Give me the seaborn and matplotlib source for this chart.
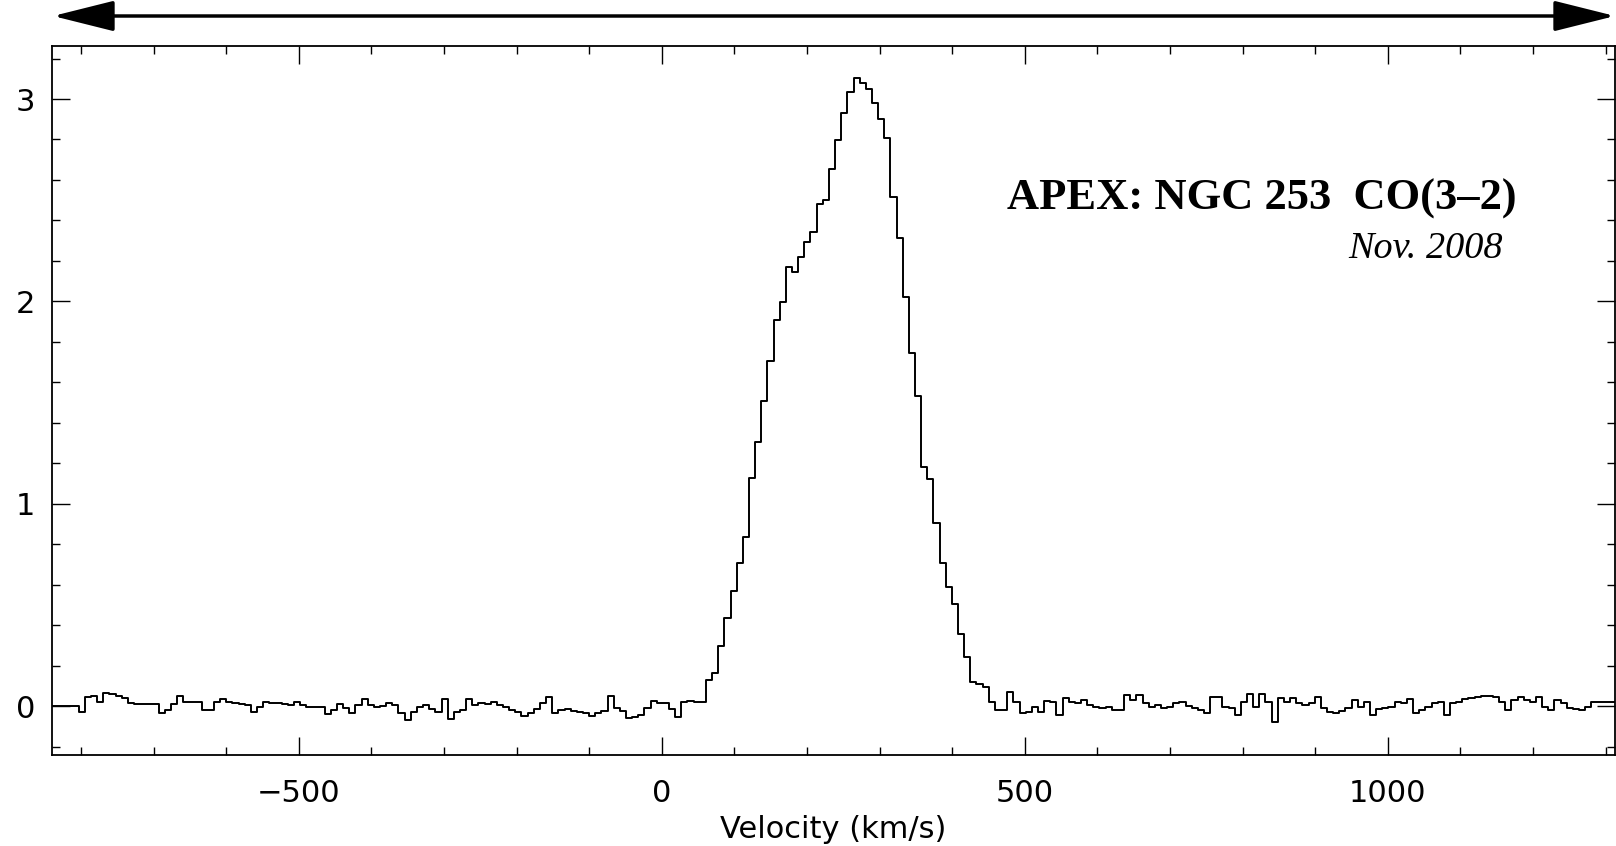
import numpy as np
import seaborn as sns
import matplotlib.pyplot as plt
from matplotlib.patches import FancyArrowPatch
from matplotlib.ticker import MultipleLocator

# --- data: APEX NGC 253 CO(3-2) spectrum, one value per channel ---
V0 = -845.5      # left edge of first channel (km/s)
DV = 8.47        # channel width (km/s)

# baseline left of the line (channels k = -118 .. -12)
base_left = [
    0.0, 0.0, 0.0, 0.0, 0.0, -0.028, 0.046, 0.048, 0.02, 0.063,
    0.058, 0.05, 0.04, 0.013, 0.012, 0.012, 0.008, 0.008, -0.036, -0.02,
    0.008, 0.05, 0.02, 0.02, 0.02, -0.02, -0.02, 0.02, 0.033, 0.02,
    0.016, 0.01, 0.005, -0.028, -0.003, 0.02, 0.013, 0.016, 0.01, 0.005,
    0.02, 0.005, -0.003, -0.006, -0.006, -0.04, -0.02, 0.01, -0.012, -0.036,
    0.005, 0.033, 0.005, -0.003, 0.0, 0.013, 0.005, -0.036, -0.07, -0.028,
    -0.003, 0.005, -0.016, -0.028, 0.033, -0.066, -0.028, -0.02, 0.033, 0.005,
    0.013, 0.008, 0.02, 0.005, -0.003, -0.02, -0.028, -0.05, -0.036, -0.016,
    0.013, 0.046, -0.033, -0.02, -0.016, -0.023, -0.028, -0.036, -0.05, -0.033,
    -0.023, 0.05, -0.012, -0.023, -0.06, -0.053, -0.045, -0.008, 0.026, 0.013,
    0.013, -0.014, -0.055, 0.02, 0.026, 0.02, 0.02,
]

# the CO(3-2) line itself (channels k = -11 .. 33)
line_core = [
    0.128, 0.165, 0.297, 0.433, 0.57, 0.708, 0.837, 1.125, 1.306, 1.507, 1.707,
    1.908, 1.995, 2.168, 2.143, 2.217, 2.295, 2.344, 2.479, 2.501, 2.656, 2.797,
    2.932, 3.036, 3.105, 3.081, 3.048, 2.979, 2.9, 2.809, 2.517, 2.315, 2.023,
    1.743, 1.532, 1.183, 1.12, 0.906, 0.708, 0.59, 0.504, 0.354, 0.244, 0.12, 0.107,
]

# baseline right of the line (channels k = 34 .. 137)
base_right = [
    0.096, 0.021, -0.02, -0.02, 0.068, 0.021, -0.036, -0.028, -0.003, -0.028,
    0.026, 0.021, -0.044, 0.038, 0.021, 0.016, 0.03, 0.005, -0.003, -0.012,
    -0.003, -0.02, -0.02, 0.054, 0.03, 0.054, 0.013, -0.003, 0.005, -0.012,
    -0.003, 0.016, 0.021, 0.0, -0.012, -0.02, -0.033, 0.043, 0.043, -0.003,
    -0.012, -0.044, 0.021, 0.059, -0.003, 0.059, 0.021, -0.077, 0.038, 0.021,
    0.038, 0.013, 0.005, 0.013, 0.043, -0.012, -0.028, -0.033, -0.023, -0.012,
    0.03, -0.003, 0.021, -0.044, -0.016, -0.012, -0.003, 0.021, 0.013, 0.033,
    -0.036, -0.02, -0.003, 0.013, 0.021, -0.044, 0.013, 0.021, 0.033, 0.038,
    0.046, 0.049, 0.049, 0.046, 0.021, -0.02, 0.03, 0.046, 0.03, 0.021,
    0.046, -0.003, -0.02, 0.03, 0.013, -0.012, -0.016, -0.02, -0.003, 0.021,
    0.021, 0.021, 0.021, 0.021,
]

title = "APEX: NGC 253  CO(3\u20132)"
subtitle = "Nov. 2008"
xlabel = "Velocity (km/s)"

flux = np.array(base_left + line_core + base_right)
vel = V0 + DV * (np.arange(len(flux)) + 0.5)

# --- figure ---
sns.set_style("ticks")
plt.rcParams['font.family'] = ['DejaVu Sans']
plt.rcParams['text.color'] = 'black'
plt.rcParams['axes.labelcolor'] = 'black'
plt.rcParams['xtick.color'] = 'black'
plt.rcParams['ytick.color'] = 'black'

W, H = 1616, 846
fig = plt.figure(figsize=(W / 100, H / 100), dpi=100)
ax = fig.add_axes([52 / W, (H - 755) / H, (1615 - 52) / W, (755 - 46) / H])

sns.lineplot(x=vel, y=flux, drawstyle='steps-mid', color='black',
             linewidth=1.4, estimator=None, ax=ax)

ax.set_xlim(-840, 1313)
ax.set_ylim(-0.242, 3.262)
ax.xaxis.set_major_locator(MultipleLocator(500))
ax.xaxis.set_minor_locator(MultipleLocator(100))
ax.yaxis.set_major_locator(MultipleLocator(1))
ax.yaxis.set_minor_locator(MultipleLocator(0.2))

ax.tick_params(which='both', direction='in', top=True, right=True,
               color='black', labelcolor='black', labelsize=22)
ax.tick_params(which='major', length=13, width=1.0)
ax.tick_params(which='minor', length=6, width=1.0)
ax.tick_params(axis='x', pad=17)
ax.tick_params(axis='y', pad=12)
for s in ax.spines.values():
    s.set_linewidth(1.3)
    s.set_color('black')

ax.set_xlabel(xlabel, fontsize=22, labelpad=5, color='black')
ax.set_ylabel('')

fig.text(1517 / W, 1 - 210 / H, title, ha='right', va='baseline', color='black',
         fontsize=32, fontweight='bold', family=['Liberation Serif', 'DejaVu Serif'])
fig.text(1503 / W, 1 - 258 / H, subtitle, ha='right', va='baseline', color='black',
         fontsize=27.5, style='italic', family=['Liberation Serif', 'DejaVu Serif'])

# double arrow above the plot
arrow = FancyArrowPatch((53 / W, 1 - 16 / H), (1615 / W, 1 - 16 / H),
                        transform=fig.transFigure,
                        arrowstyle='<|-|>,head_length=38,head_width=9.5',
                        mutation_scale=1, shrinkA=0, shrinkB=0,
                        lw=2.5, color='black')
fig.add_artist(arrow)

fig.savefig('out.png', dpi=100, facecolor='white')
plt.close(fig)
